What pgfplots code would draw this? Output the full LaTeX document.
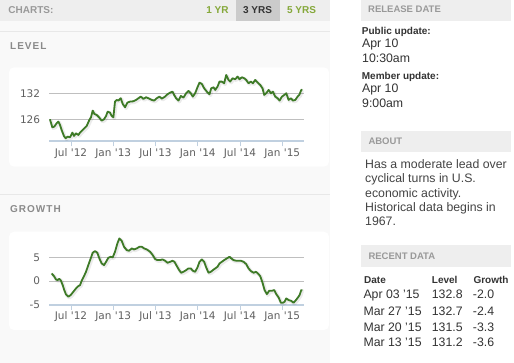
\documentclass[border=0pt]{standalone}
\usepackage{pgfplots}
\pgfplotsset{compat=1.18}
\usepackage{pgfplotstable}
\usepackage{fontspec}
\setmainfont{Liberation Sans}
\newfontfamily\dejavu{DejaVu Sans}
\newfontfamily\spaced[LetterSpace=10]{Liberation Sans}
\definecolor{bgleft}{HTML}{F9F9F9}
\definecolor{barbg}{HTML}{EEEEEE}
\definecolor{selbg}{HTML}{CBCBCB}
\definecolor{headgray}{HTML}{999999}
\definecolor{secgray}{HTML}{8A8A8A}
\definecolor{ygreen}{HTML}{85A83A}
\definecolor{darktext}{HTML}{333333}
\definecolor{bodytext}{HTML}{444444}
\definecolor{linegreen}{HTML}{3D7A26}
\definecolor{axisblue}{HTML}{C0D0E0}
\definecolor{ticktext}{HTML}{606060}
\definecolor{sepline}{HTML}{E8E8E8}

\pgfplotstableread{
x y
3.01 126.0
3.35 124.15
3.63 124.31
3.96 125.08
4.20 125.46
4.44 124.69
4.67 123.54
5.00 122.15
5.24 121.62
5.53 122.0
5.86 121.85
6.19 122.92
6.43 122.15
6.71 122.77
7.04 122.38
7.28 122.92
7.75 123.69
8.23 124.46
8.61 125.85
8.84 126.46
9.08 128.0
9.32 127.23
9.65 127.0
9.98 126.46
10.36 125.69
10.69 126.0
10.98 126.77
11.21 127.77
11.54 127.54
11.78 126.77
12.02 126.46
12.25 130.08
12.49 130.46
12.73 130.31
13.06 130.85
13.35 129.54
13.68 128.77
14.01 129.85
14.39 130.08
14.86 130.15
15.24 130.46
15.57 130.85
15.91 131.23
16.28 130.69
16.66 131.08
17.09 130.77
17.47 130.46
17.80 130.31
18.18 130.85
18.56 131.23
18.89 130.77
19.36 131.23
19.70 131.77
20.08 132.15
20.41 132.38
20.64 131.62
20.93 130.85
21.26 130.31
21.59 131.38
21.97 131.0
22.35 132.0
22.68 132.54
23.01 132.0
23.30 131.23
23.63 132.0
23.96 133.38
24.25 134.46
24.58 134.15
24.91 133.15
25.29 132.38
25.67 131.77
25.91 133.15
26.24 133.38
26.48 132.77
26.81 133.54
27.09 134.69
27.42 134.69
27.75 134.31
28.04 136.23
28.37 135.08
28.61 134.69
28.94 135.46
29.32 135.23
29.65 135.85
29.93 135.23
30.26 135.69
30.60 135.46
30.88 135.08
31.21 134.31
31.55 134.69
31.83 134.31
32.16 135.08
32.50 134.46
32.87 133.92
33.20 133.15
33.44 131.62
33.72 132.0
34.06 132.77
34.39 132.0
34.67 132.38
35.00 131.23
35.34 130.85
35.62 130.31
35.95 131.23
36.29 131.62
36.57 132.0
36.90 130.46
37.23 130.85
37.52 130.31
37.85 130.46
38.18 131.23
38.42 131.62
38.70 132.77
38.85 132.8
}\leveldata

\pgfplotstableread{
x y
3.25 1.62
3.58 1.06
3.87 0.35
4.10 0.21
4.34 0.49
4.58 0.07
4.82 -0.85
5.05 -1.90
5.29 -2.82
5.62 -3.31
5.95 -2.96
6.33 -2.25
6.71 -1.55
7.04 -1.06
7.28 -0.85
7.52 0.07
7.85 1.06
8.13 1.97
8.46 3.38
8.80 4.79
9.08 5.99
9.41 6.34
9.74 5.99
10.03 4.79
10.36 3.73
10.69 3.38
10.98 4.08
11.31 4.93
11.64 5.14
11.92 5.00
12.25 6.20
12.59 7.96
12.87 9.01
13.20 8.52
13.53 7.25
13.91 6.55
14.25 6.41
14.62 6.90
14.96 6.69
15.33 6.90
15.71 7.25
16.05 7.25
16.38 6.90
16.76 6.69
17.23 6.20
17.61 5.49
17.94 4.65
18.27 4.44
18.65 4.44
18.98 4.58
19.36 4.30
19.70 3.87
20.08 4.08
20.41 4.30
20.69 4.08
21.03 3.17
21.36 2.32
21.64 1.76
21.97 1.97
22.35 2.32
22.68 2.68
23.01 2.68
23.30 2.18
23.63 1.97
23.96 2.89
24.25 4.08
24.58 4.58
24.91 4.08
25.20 2.89
25.53 1.76
25.86 1.97
26.15 2.32
26.48 2.68
26.81 3.03
27.09 3.73
27.42 4.08
27.75 4.44
28.13 4.79
28.51 5.14
28.75 4.79
29.08 4.44
29.46 4.30
29.79 4.30
30.12 4.30
30.50 4.08
30.88 3.59
31.21 2.68
31.55 2.11
31.93 1.76
32.26 1.97
32.54 1.62
32.87 1.06
33.20 -0.35
33.49 -1.90
33.82 -2.75
34.15 -2.04
34.53 -2.04
34.86 -1.90
35.15 -2.75
35.48 -3.45
35.81 -4.58
36.09 -4.58
36.33 -4.37
36.57 -3.66
36.90 -4.01
37.23 -4.15
37.61 -4.58
37.94 -4.01
38.23 -3.45
38.46 -2.96
38.70 -1.90
38.85 -2.0
}\growthdata

\pgfplotsset{
  dash/.style={
    scale only axis,
    width=255pt, height=70pt,
    xmin=2.92, xmax=39.13,
    axis x line*=bottom, axis y line*=left,
    y axis line style={draw=none},
    x axis line style={draw=axisblue, line width=2pt},
    xtick={6,12,18,24,30,36},
    xticklabels={Jul '12,Jan '13,Jul '13,Jan '14,Jul '14,Jan '15},
    tick align=outside,
    major tick length=5pt,
    xtick style={draw=axisblue, line width=0.8pt},
    ytick style={draw=none},
    ymajorgrids,
    grid style={draw=gray!50, line width=0.8pt},
    /pgf/number format/assume math mode=true,
    ticklabel style={font=\dejavu\fontsize{10.5}{12}\selectfont, text=ticktext},
    xticklabel style={anchor=base, yshift=-10pt},
    yticklabel style={anchor=east, inner sep=0pt, xshift=-4pt},
    clip=false,
  }
}

\begin{document}
\begin{tikzpicture}
\useasboundingbox (0,0) rectangle (514pt,-363pt);
\begin{scope}[x=1pt,y=-1pt]
  \fill[white] (0,0) rectangle (514,363);
  \fill[bgleft] (0,0) rectangle (330,363);
  % left header bar
  \fill[barbg] (0,0) rectangle (330,20.7);
  \fill[selbg] (236,0) rectangle (280,20.7);
  \node[anchor=base west, inner sep=0pt, font=\bfseries\fontsize{10}{12}\selectfont, text=headgray] at (8.3,13.4) {CHARTS:};
  \node[anchor=base, inner sep=0pt, font=\bfseries\fontsize{10}{12}\selectfont, text=ygreen] at (217.5,13.4) {1 YR};
  \node[anchor=base, inner sep=0pt, font=\bfseries\fontsize{10}{12}\selectfont, text=darktext] at (257.5,13.4) {3 YRS};
  \node[anchor=base, inner sep=0pt, font=\bfseries\fontsize{10}{12}\selectfont, text=ygreen] at (301.5,13.4) {5 YRS};
  % separators
  \draw[sepline, line width=1pt] (0,31.7) -- (330,31.7);
  \draw[sepline, line width=1pt] (0,195) -- (330,195);
  \node[anchor=base west, inner sep=0pt, font=\spaced\bfseries\fontsize{10}{12}\selectfont, text=secgray] at (10,49.3) {LEVEL};
  \node[anchor=base west, inner sep=0pt, font=\spaced\bfseries\fontsize{10}{12}\selectfont, text=secgray] at (10,212.9) {GROWTH};
  % panels
  \fill[white, rounded corners=5pt] (9,67.3) rectangle (329,166.7);
  \fill[white, rounded corners=5pt] (9,231.7) rectangle (329,330);
  % right column
  \fill[barbg] (361,0) rectangle (511,20.7);
  \node[anchor=base west, inner sep=0pt, font=\bfseries\fontsize{9.5}{11}\selectfont, text=headgray] at (368,12.7) {RELEASE DATE};
  \node[anchor=base west, inner sep=0pt, font=\bfseries\fontsize{10}{12}\selectfont, text=darktext] at (361.7,34.6) {Public update:};
  \node[anchor=base west, inner sep=0pt, font=\fontsize{12.3}{14}\selectfont, text=darktext] at (362,47.1) {Apr 10};
  \node[anchor=base west, inner sep=0pt, font=\fontsize{12.3}{14}\selectfont, text=darktext] at (362,62.1) {10:30am};
  \node[anchor=base west, inner sep=0pt, font=\bfseries\fontsize{10}{12}\selectfont, text=darktext] at (361.7,79.3) {Member update:};
  \node[anchor=base west, inner sep=0pt, font=\fontsize{12.3}{14}\selectfont, text=darktext] at (362,92.1) {Apr 10};
  \node[anchor=base west, inner sep=0pt, font=\fontsize{12.3}{14}\selectfont, text=darktext] at (362,107.1) {9:00am};
  \fill[barbg] (361,130.7) rectangle (511,151.7);
  \node[anchor=base west, inner sep=0pt, font=\bfseries\fontsize{9.5}{11}\selectfont, text=headgray] at (368.3,144.1) {ABOUT};
  \foreach \t/\yy in {Has a moderate lead over/168.4, cyclical turns in U.S./182.7, economic activity./197.1, Historical data begins in/211.7, 1967./225.1}
    \node[anchor=base west, inner sep=0pt, font=\fontsize{12.3}{14}\selectfont, text=bodytext] at (365,\yy) {\t};
  \fill[barbg] (361,245) rectangle (511,267);
  \node[anchor=base west, inner sep=0pt, font=\bfseries\fontsize{9.5}{11}\selectfont, text=headgray] at (368.3,259.4) {RECENT DATA};
  \node[anchor=base west, inner sep=0pt, font=\bfseries\fontsize{10}{12}\selectfont, text=darktext] at (364,283.6) {Date};
  \node[anchor=base west, inner sep=0pt, font=\bfseries\fontsize{10}{12}\selectfont, text=darktext] at (431.7,283.6) {Level};
  \node[anchor=base west, inner sep=0pt, font=\bfseries\fontsize{10}{12}\selectfont, text=darktext] at (473.3,283.6) {Growth};
  \foreach \d/\l/\g/\yy in {Apr 03 '15/132.8/-2.0/298.7, Mar 27 '15/132.7/-2.4/315.1, Mar 20 '15/131.5/-3.3/331.1, Mar 13 '15/131.2/-3.6/346.7} {
    \node[anchor=base west, inner sep=0pt, font=\fontsize{12.3}{14}\selectfont, text=darktext] at (363.3,\yy) {\d};
    \node[anchor=base west, inner sep=0pt, font=\fontsize{12.3}{14}\selectfont, text=darktext] at (431.7,\yy) {\l};
    \node[anchor=base west, inner sep=0pt, font=\fontsize{12.3}{14}\selectfont, text=darktext] at (472.7,\yy) {\g};
  }
\end{scope}

\begin{axis}[dash, at={(49.3pt,-141.3pt)}, anchor=south west,
  ymin=120.92, ymax=137.07, ytick={126,132}]
  \addplot[black, opacity=0.08, line width=3.5pt, xshift=1pt, yshift=-1pt, line join=round] table[x=x,y=y] {\leveldata};
  \addplot[linegreen, line width=1.8pt, line join=round] table[x=x,y=y] {\leveldata};
\end{axis}

\begin{axis}[dash, at={(49.3pt,-305pt)}, anchor=south west,
  ymin=-5.05, ymax=9.74, ytick={-5,0,5}]
  \addplot[black, opacity=0.08, line width=3.5pt, xshift=1pt, yshift=-1pt, line join=round] table[x=x,y=y] {\growthdata};
  \addplot[linegreen, line width=1.8pt, line join=round] table[x=x,y=y] {\growthdata};
\end{axis}
\end{tikzpicture}
\end{document}
